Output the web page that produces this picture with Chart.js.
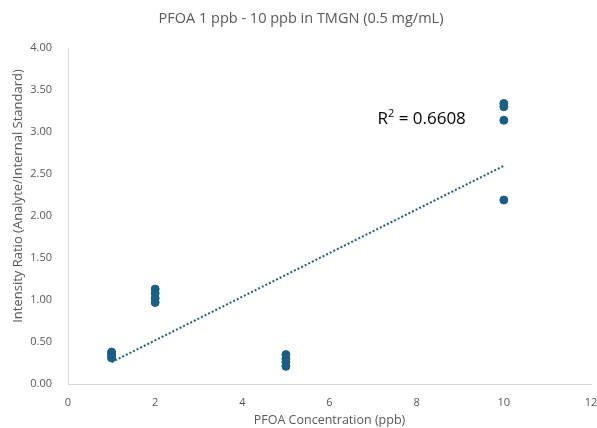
<!DOCTYPE html>
<html>
<head>
<meta charset="utf-8">
<script src="https://cdn.jsdelivr.net/npm/chart.js@4"></script>
<style>
  body { margin: 0; background: #fff; }
</style>
</head>
<body>
<canvas id="pfoaChart" width="597" height="428"></canvas>
<script>
// PFOA calibration data
const concentrations = [1, 1, 1, 1, 2, 2, 2, 2, 5, 5, 5, 5, 10, 10, 10, 10];
const intensityRatios = [0.38, 0.36, 0.33, 0.31, 1.13, 1.08, 1.02, 0.97, 0.35, 0.30, 0.26, 0.21, 3.34, 3.30, 3.14, 2.19];
const rSquaredText = '0.6608';
const xTicks = [0, 2, 4, 6, 8, 10, 12];

const points = concentrations.map((x, i) => ({ x: x, y: intensityRatios[i] }));

// linear trendline through the origin (as in the original sheet)
let sxy = 0, sxx = 0;
concentrations.forEach((x, i) => { sxy += x * intensityRatios[i]; sxx += x * x; });
const slope = sxy / sxx;
const xMin = Math.min(...concentrations), xMax = Math.max(...concentrations);
const trend = [{ x: xMin, y: slope * xMin }, { x: xMax, y: slope * xMax }];

const blue = '#1b5f86';
const grey = '#595959';

// title, y axis title and the R² note, drawn where the original sheet put them
const extraText = {
  id: 'extraText',
  afterDraw(chart) {
    const ctx = chart.ctx;
    ctx.save();
    ctx.fillStyle = grey;
    ctx.textAlign = 'center';
    ctx.textBaseline = 'middle';
    ctx.font = '14.5px "Open Sans"';
    ctx.fillText('PFOA 1 ppb - 10 ppb in TMGN (0.5 mg/mL)', 301, 19);

    ctx.translate(18, 196);
    ctx.rotate(-Math.PI / 2);
    ctx.font = '13px "Open Sans"';
    ctx.fillText('Intensity Ratio (Analyte/Internal Standard)', 0, 0);
    ctx.restore();

    const px = chart.scales.x.getPixelForValue(7.1);
    const py = chart.scales.y.getPixelForValue(3.15);
    ctx.save();
    ctx.fillStyle = '#000';
    ctx.textBaseline = 'middle';
    ctx.font = '17px "Open Sans"';
    ctx.fillText('R', px, py);
    const w = ctx.measureText('R').width;
    ctx.font = '11px "Open Sans"';
    ctx.fillText('2', px + w, py - 6);
    const w2 = ctx.measureText('2').width;
    ctx.font = '17px "Open Sans"';
    ctx.fillText(' = ' + rSquaredText, px + w + w2, py);
    ctx.restore();
  }
};

new Chart(document.getElementById('pfoaChart').getContext('2d'), {
  type: 'scatter',
  data: {
    datasets: [{
      label: 'Intensity ratio',
      data: points,
      backgroundColor: blue,
      borderColor: blue,
      pointRadius: 4,
      pointHoverRadius: 4,
      order: 1
    }, {
      type: 'line',
      label: 'Trendline',
      data: trend,
      borderColor: blue,
      borderWidth: 2,
      borderDash: [2, 2],
      pointRadius: 0,
      fill: false,
      order: 2
    }]
  },
  options: {
    responsive: false,
    animation: false,
    layout: { padding: { left: 10, right: 6, top: 48, bottom: 0 } },
    plugins: {
      legend: { display: false },
      tooltip: { enabled: false },
      title: { display: false }
    },
    scales: {
      x: {
        type: 'linear',
        min: 0,
        max: 12,
        afterBuildTicks: s => { s.ticks = xTicks.map(v => ({ value: v })); },
        afterFit: s => { s.height = 44; s.paddingRight = 0; },
        grid: { display: false },
        border: { display: true, color: '#d9d9d9', width: 1 },
        ticks: { color: grey, font: { family: 'Open Sans', size: 11 }, padding: 4 },
        title: {
          display: true,
          text: 'PFOA Concentration (ppb)',
          color: grey,
          font: { family: 'Open Sans', size: 12.5 },
          padding: { top: 2, bottom: 0 }
        }
      },
      y: {
        min: 0,
        max: 4,
        afterFit: s => { s.width = 58; },
        grid: { display: false },
        border: { display: true, color: '#d9d9d9', width: 1 },
        ticks: {
          stepSize: 0.5,
          color: grey,
          font: { family: 'Open Sans', size: 11 },
          padding: 8,
          callback: v => v.toFixed(2)
        }
      }
    }
  },
  plugins: [extraText]
});
</script>
</body>
</html>
